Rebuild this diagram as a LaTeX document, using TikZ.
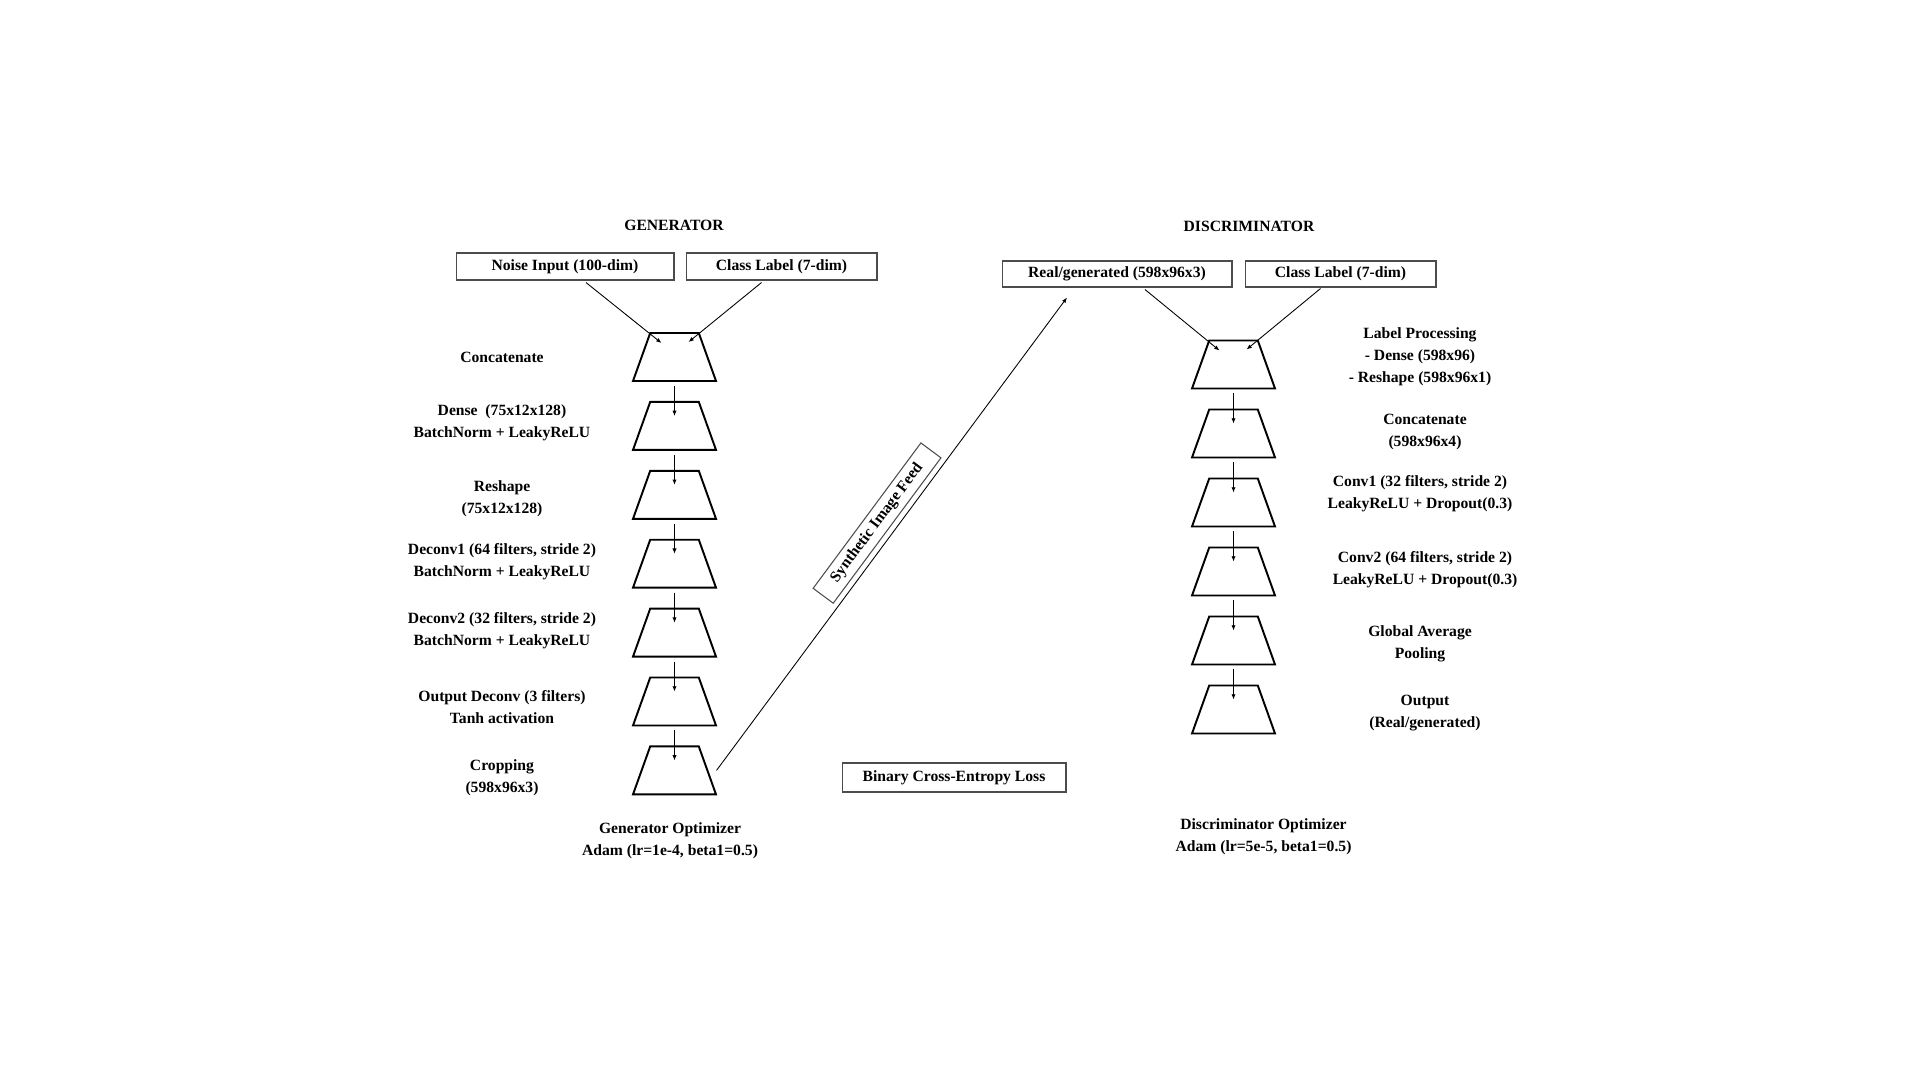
\documentclass[tikz,border=0pt]{standalone}
\usepackage{fontspec}
\setmainfont{Liberation Serif}
\usepackage{tikz}
\usetikzlibrary{arrows.meta, shapes.geometric, positioning, calc}

\tikzset{
  layer/.style={draw, line width=1.1pt, trapezium, trapezium angle=70.5,
                trapezium stretches=true, minimum width=1.66cm,
                minimum height=0.96cm, inner sep=1pt},
  inbox/.style={draw=black!70, line width=0.6pt, minimum height=0.54cm, inner sep=0pt},
  tagbox/.style={draw=black!70, line width=0.6pt, minimum width=3.62cm,
                 minimum height=0.5cm, inner sep=0pt},
  lbl/.style={align=center},
  flow/.style={-{Latex[length=3pt,width=2.4pt]}, line width=0.5pt},
}

\begin{document}
\begin{tikzpicture}[x=0.02cm, y=-0.02cm,
                    font=\fontsize{8.9}{12.5}\selectfont\bfseries]
  \useasboundingbox (0,0) rectangle (1920,1080);

  %% Titles
  \node (gtitle) at (674,225)  {GENERATOR};
  \node (dtitle) at (1249,226) {DISCRIMINATOR};

  %% Generator inputs
  \node[inbox, minimum width=4.36cm] (noise)  at (565,266.5)   {Noise Input (100-dim)};
  \node[inbox, minimum width=3.82cm] (gclass) at (781.5,266.5) {Class Label (7-dim)};

  %% Generator layers: (index, label y, label text)
  \foreach \i/\ly/\txt in {1/357/{Concatenate},
      2/423/{Dense\ \ (75x12x128)\\BatchNorm + LeakyReLU},
      3/499/{Reshape\\(75x12x128)},
      4/562/{Deconv1 (64 filters, stride 2)\\BatchNorm + LeakyReLU},
      5/631/{Deconv2 (32 filters, stride 2)\\BatchNorm + LeakyReLU},
      6/707.5/{Output Deconv (3 filters)\\Tanh activation},
      7/777.5/{Cropping\\(598x96x3)}} {
    \node[layer] (g\i) at (674.5, {357+68.9*(\i-1)}) {};
    \node[lbl] (gl\i) at (502,\ly) {\txt};
  }

  \draw[flow] ($(noise.south)+(21,2)$)   -- ($(g1.north)+(-13,11)$);
  \draw[flow] ($(gclass.south)+(-20,2)$) -- ($(g1.north)+(14,10)$);
  \foreach \i [remember=\i as \p (initially 1)] in {2,...,7}
    \draw[flow] ($(g\p.south)+(0,4)$) -- ($(g\i.north)+(0,15)$);

  \node[lbl] (gopt) at (670,841) {Generator Optimizer\\Adam (lr=1e-4, beta1=0.5)};

  %% Discriminator inputs
  \node[inbox, minimum width=4.6cm, minimum height=0.52cm]  (real)   at (1117,274)   {Real/generated (598x96x3)};
  \node[inbox, minimum width=3.82cm, minimum height=0.52cm] (dclass) at (1340.5,274) {Class Label (7-dim)};

  %% Discriminator layers: (index, label x, label y, label text)
  \foreach \i/\lx/\ly/\txt in {1/1420/357/{Label Processing\\- Dense (598x96)\\- Reshape (598x96x1)},
      2/1425/432/{Concatenate\\(598x96x4)},
      3/1420/494/{Conv1 (32 filters, stride 2)\\LeakyReLU + Dropout(0.3)},
      4/1425/570/{Conv2 (64 filters, stride 2)\\LeakyReLU + Dropout(0.3)},
      5/1420/644/{Global Average\\Pooling},
      6/1425/713.5/{Output\\(Real/generated)}} {
    \node[layer] (d\i) at (1233.5, {364.5+69*(\i-1)}) {};
    \node[lbl] (dl\i) at (\lx,\ly) {\txt};
  }

  \draw[flow] ($(real.south)+(28,2)$)     -- ($(d1.north)+(-14,11)$);
  \draw[flow] ($(dclass.south)+(-20,1)$)  -- ($(d1.north)+(13,10)$);
  \foreach \i [remember=\i as \p (initially 1)] in {2,...,6}
    \draw[flow] ($(d\p.south)+(0,4)$) -- ($(d\i.north)+(0,15)$);

  \node[lbl] (dopt) at (1263.5,837) {Discriminator Optimizer\\Adam (lr=5e-5, beta1=0.5)};

  %% Generator output to discriminator input
  \draw[flow] ($(g7.center)+(42,0)$) --
    node[tagbox, midway, sloped, above=3pt] (feed) {Synthetic Image Feed}
    ($(real.south)+(-50,10)$);

  \node[inbox, minimum width=4.48cm, minimum height=0.58cm] (loss) at (954,777.5) {Binary Cross-Entropy Loss};
\end{tikzpicture}
\end{document}
